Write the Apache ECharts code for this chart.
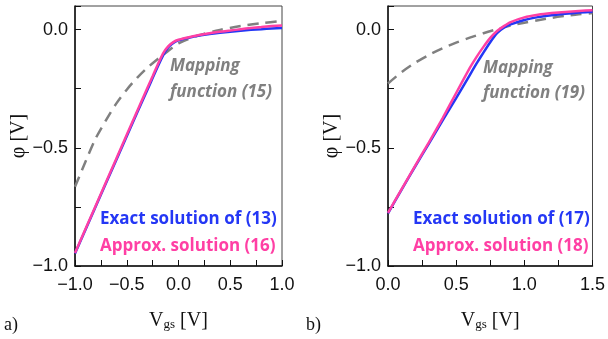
<!DOCTYPE html>
<html>
<head>
<meta charset="utf-8">
<script src="https://cdn.jsdelivr.net/npm/echarts@6/dist/echarts.min.js"></script>
<style>
  html, body { margin: 0; padding: 0; background: #fff; }
  #chart { width: 608px; height: 339px; }
</style>
</head>
<body>
<div id="chart"></div>
<script>
// Panel a): surface potential vs gate voltage, Vgs from -1 V to 1 V
const vgsA = [-1.0, -0.8, -0.6, -0.4, -0.3, -0.25, -0.2, -0.15, -0.1, -0.05, 0.0, 0.1, 0.2, 0.3, 0.4, 0.5, 0.6, 0.7, 0.8, 0.9, 1.0];
const exactA = [-0.947, -0.748, -0.550, -0.352, -0.254, -0.205, -0.156, -0.110, -0.075, -0.056, -0.045, -0.034, -0.025, -0.018, -0.013, -0.009, -0.005, -0.001, 0.002, 0.005, 0.007];
const approxA = [-0.945, -0.745, -0.545, -0.345, -0.246, -0.197, -0.147, -0.101, -0.071, -0.053, -0.043, -0.032, -0.023, -0.015, -0.009, -0.004, 0.002, 0.007, 0.011, 0.015, 0.018];
const mapVgsA = [-1.0, -0.9, -0.8, -0.7, -0.6, -0.5, -0.4, -0.3, -0.2, -0.1, 0.0, 0.2, 0.4, 0.6, 0.8, 1.0];
const mappingA = [-0.665, -0.560, -0.460, -0.383, -0.312, -0.254, -0.204, -0.161, -0.124, -0.090, -0.058, -0.024, -0.001, 0.015, 0.027, 0.037];

// Panel b): Vgs from 0 V to 1.5 V
const vgsB = [0.0, 0.1, 0.2, 0.3, 0.4, 0.5, 0.6, 0.65, 0.7, 0.75, 0.8, 0.85, 0.9, 1.0, 1.1, 1.2, 1.3, 1.4, 1.5];
const exactB = [-0.777, -0.677, -0.578, -0.482, -0.385, -0.290, -0.192, -0.143, -0.097, -0.053, -0.015, 0.008, 0.022, 0.041, 0.053, 0.061, 0.067, 0.072, 0.076];
const approxB = [-0.775, -0.675, -0.575, -0.477, -0.375, -0.268, -0.162, -0.115, -0.073, -0.035, -0.006, 0.015, 0.032, 0.052, 0.063, 0.070, 0.075, 0.079, 0.082];
const mapVgsB = [0.0, 0.1, 0.2, 0.3, 0.4, 0.5, 0.6, 0.7, 0.8, 0.9, 1.0, 1.1, 1.2, 1.3, 1.4, 1.5];
const mappingB = [-0.228, -0.180, -0.140, -0.107, -0.079, -0.055, -0.034, -0.015, 0.002, 0.017, 0.029, 0.040, 0.050, 0.058, 0.065, 0.070];

// Text drawn on each panel
const panelTags = ['a)', 'b)'];
const mappingText = [['Mapping', 'function (15)'], ['Mapping', 'function (19)']];
const exactText = ['Exact solution of (13)', 'Exact solution of (17)'];
const approxText = ['Approx. solution (16)', 'Approx. solution (18)'];

const BLUE = '#2437f5';
const PINK = '#ff3fa4';
const GREY = '#808080';
const SERIF = '"Liberation Serif", "Times New Roman", serif';
const SANS = '"Liberation Sans", Arial, sans-serif';
const NOTE = '"Open Sans", "Noto Sans", sans-serif';

const pairs = (xs, ys) => xs.map((x, i) => [x, ys[i]]);
const fmt = v => (v < 0 ? '\u2212' : '') + Math.abs(v).toFixed(1);
const onHalf = v => Math.abs(v * 2 - Math.round(v * 2)) < 1e-6;

function xAxis(gridIndex, min, max) {
  return {
    type: 'value', gridIndex, min, max, interval: 0.25,
    name: '{v|V}{s|gs}{v| [V]}',
    nameLocation: 'middle', nameGap: 45,
    nameTextStyle: {
      rich: {
        v: { fontFamily: SERIF, fontSize: 20, lineHeight: 20, verticalAlign: 'bottom', color: '#111' },
        s: { fontFamily: SERIF, fontSize: 13, lineHeight: 12, verticalAlign: 'bottom', color: '#111' }
      }
    },
    axisLine: { show: true, onZero: false, lineStyle: { color: '#111', width: 1.5 } },
    axisTick: { show: true, inside: true, length: 6, lineStyle: { color: '#111', width: 1 } },
    axisLabel: {
      interval: 0, hideOverlap: false, margin: 10,
      fontFamily: SANS, fontSize: 18, color: '#111',
      formatter: v => onHalf(v) ? fmt(v) : ''
    },
    splitLine: { show: false }
  };
}

function yAxis(gridIndex) {
  return {
    type: 'value', gridIndex, min: -1, max: 0.1, interval: 0.25,
    name: '\u03c6 [V]',
    nameLocation: 'middle', nameGap: 38,
    nameTextStyle: { fontFamily: SERIF, fontSize: 20, color: '#111' },
    axisLine: { show: true, onZero: false, lineStyle: { color: '#111', width: 1.5 } },
    axisTick: { show: true, inside: true, length: 6, lineStyle: { color: '#111', width: 1 } },
    axisLabel: {
      interval: 0, hideOverlap: false, margin: 7,
      fontFamily: SANS, fontSize: 18, color: '#111',
      formatter: v => (onHalf(v) && v <= 0) ? fmt(v) : ''
    },
    splitLine: { show: false }
  };
}

function curve(idx, data, color, dashed) {
  return {
    type: 'line', xAxisIndex: idx, yAxisIndex: idx, data,
    showSymbol: false, smooth: dashed ? 0.3 : 0.15, silent: true,
    lineStyle: dashed
      ? { color, width: 2.5, type: [11, 7], cap: 'butt' }
      : { color, width: 2.5 }
  };
}

function note(x, y, text, color, italic) {
  return {
    type: 'text', x, y, silent: true,
    style: {
      text, fill: color, fontFamily: NOTE, fontSize: 17,
      fontWeight: 'bold', fontStyle: italic ? 'italic' : 'normal',
      verticalAlign: 'middle', align: 'left'
    }
  };
}

const option = {
  animation: false,
  backgroundColor: '#fff',
  grid: [
    { left: 75, top: 6, width: 207, height: 260, show: true, borderColor: '#444', borderWidth: 1 },
    { left: 388, top: 6, width: 207, height: 260, show: true, borderColor: '#444', borderWidth: 1 }
  ],
  xAxis: [xAxis(0, -1, 1), xAxis(1, 0, 1.5)],
  yAxis: [yAxis(0), yAxis(1)],
  series: [
    curve(0, pairs(mapVgsA, mappingA), GREY, true),
    curve(0, pairs(vgsA, exactA), BLUE, false),
    curve(0, pairs(vgsA, approxA), PINK, false),
    curve(1, pairs(mapVgsB, mappingB), GREY, true),
    curve(1, pairs(vgsB, exactB), BLUE, false),
    curve(1, pairs(vgsB, approxB), PINK, false)
  ],
  graphic: [
    note(170, 66, mappingText[0][0], GREY, true),
    note(170, 92, mappingText[0][1], GREY, true),
    note(100, 219, exactText[0], BLUE, false),
    note(100, 246, approxText[0], PINK, false),
    note(483, 68, mappingText[1][0], GREY, true),
    note(483, 93, mappingText[1][1], GREY, true),
    note(413, 219, exactText[1], BLUE, false),
    note(413, 246, approxText[1], PINK, false),
    { type: 'text', x: 4, y: 325, silent: true,
      style: { text: panelTags[0], fill: '#111', fontFamily: SERIF, fontSize: 18, verticalAlign: 'middle' } },
    { type: 'text', x: 306, y: 325, silent: true,
      style: { text: panelTags[1], fill: '#111', fontFamily: SERIF, fontSize: 18, verticalAlign: 'middle' } }
  ]
};

echarts.init(document.getElementById('chart'), null, { renderer: 'canvas' }).setOption(option);
</script>
</body>
</html>
